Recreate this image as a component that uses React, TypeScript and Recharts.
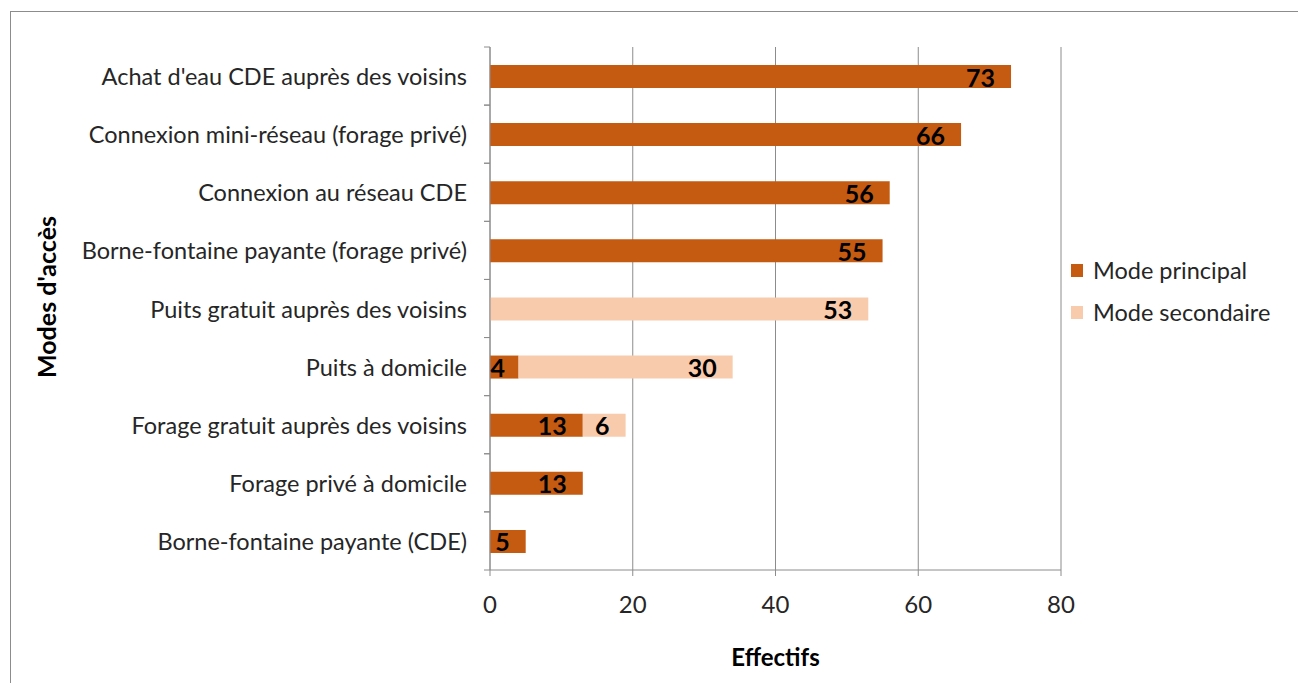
import { BarChart, Bar, XAxis, YAxis, CartesianGrid, LabelList } from 'recharts';

const categories = [
  "Achat d'eau CDE auprès des voisins",
  'Connexion mini-réseau (forage privé)',
  'Connexion au réseau CDE',
  'Borne-fontaine payante (forage privé)',
  'Puits gratuit auprès des voisins',
  'Puits à domicile',
  'Forage gratuit auprès des voisins',
  'Forage privé à domicile',
  'Borne-fontaine payante (CDE)'
];
const principal = [73, 66, 56, 55, null, 4, 13, 13, 5];
const secondaire = [null, null, null, null, 53, 30, 6, null, null];
const xTicks = [0, 20, 40, 60, 80];
const seriesNames = ['Mode principal', 'Mode secondaire'];
const seriesColors = ['#C55A11', '#F8CBAD'];

const W = 1298;
const H = 683;
const PLOT_LEFT = 490;
const PLOT_RIGHT = 1061;
const PLOT_TOP = 47;
const PLOT_BOTTOM = 570;
const BAND = (PLOT_BOTTOM - PLOT_TOP) / categories.length;
const FONT = 'Lato, "Open Sans", sans-serif';
const TEXT = '#262626';
const AXIS = '#8c8c8c';

const data = categories.map((name, i) => ({
  name,
  principal: principal[i],
  secondaire: secondaire[i]
}));

function YTick({ y, payload }: any) {
  return (
    <g>
      <text x={PLOT_LEFT - 23} y={y} textAnchor="end" dominantBaseline="central" fontSize={23.5} fill={TEXT} fontFamily={FONT}>
        {payload.value}
      </text>
      <line x1={PLOT_LEFT - 6} x2={PLOT_LEFT} y1={y - BAND / 2} y2={y - BAND / 2} stroke={AXIS} />
      <line x1={PLOT_LEFT - 6} x2={PLOT_LEFT} y1={y + BAND / 2} y2={y + BAND / 2} stroke={AXIS} />
    </g>
  );
}

function ValueLabel({ x, y, width, height, value }: any) {
  if (!value) return null;
  const tx = Math.max(x + width - 16, x + 15 * String(value).length);
  return (
    <text x={tx} y={y + height / 2} textAnchor="end" dominantBaseline="central" fontSize={25} fontWeight="bold" fill="#000" fontFamily={FONT}>
      {value}
    </text>
  );
}

function XTitle() {
  return (
    <text x={(PLOT_LEFT + PLOT_RIGHT) / 2} y={656} textAnchor="middle" dominantBaseline="central" fontSize={24} fontWeight="bold" fill="#000" fontFamily={FONT}>
      Effectifs
    </text>
  );
}

function YTitle() {
  return (
    <text x={46} y={297} transform="rotate(-90 46 297)" textAnchor="middle" dominantBaseline="central" fontSize={25} fontWeight="bold" fill="#000" fontFamily={FONT}>
      Modes d'accès
    </text>
  );
}

export default function App() {
  return (
    <div style={{ position: 'fixed', left: 0, top: 0, width: W, height: H, overflow: 'hidden', background: '#fff' }}>
      <div style={{ position: 'absolute', left: 10, top: 11, width: W + 20, height: H + 20, borderTop: '1px solid #8c8c8c', borderLeft: '1px solid #8c8c8c' }} />
      <div style={{ position: 'absolute', left: 0, top: 0 }}>
        <BarChart
          width={W}
          height={H}
          data={data}
          layout="vertical"
          margin={{ top: PLOT_TOP, right: W - PLOT_RIGHT, bottom: 53, left: 0 }}
          barSize={23}
        >
          <CartesianGrid horizontal={false} stroke={AXIS} />
          <XAxis
            type="number"
            domain={[0, 80]}
            ticks={xTicks}
            height={60}
            stroke={AXIS}
            tickSize={6}
            tickMargin={20}
            tick={{ fill: TEXT, fontSize: 24, fontFamily: FONT }}
            label={<XTitle />}
          />
          <YAxis
            type="category"
            dataKey="name"
            width={PLOT_LEFT}
            stroke={AXIS}
            tickLine={false}
            tick={<YTick />}
            interval={0}
            label={<YTitle />}
          />
          <Bar dataKey="principal" stackId="a" fill={seriesColors[0]} isAnimationActive={false}>
            <LabelList dataKey="principal" content={<ValueLabel />} />
          </Bar>
          <Bar dataKey="secondaire" stackId="a" fill={seriesColors[1]} isAnimationActive={false}>
            <LabelList dataKey="secondaire" content={<ValueLabel />} />
          </Bar>
        </BarChart>
      </div>
      <div style={{ position: 'absolute', left: 1071, top: 249, fontFamily: FONT, fontSize: 23.5, color: TEXT }}>
        {seriesNames.map((n, i) => (
          <div key={n} style={{ display: 'flex', alignItems: 'center', height: 42 }}>
            <span style={{ width: 12, height: 13, background: seriesColors[i], marginRight: 10 }} />
            {n}
          </div>
        ))}
      </div>
    </div>
  );
}
